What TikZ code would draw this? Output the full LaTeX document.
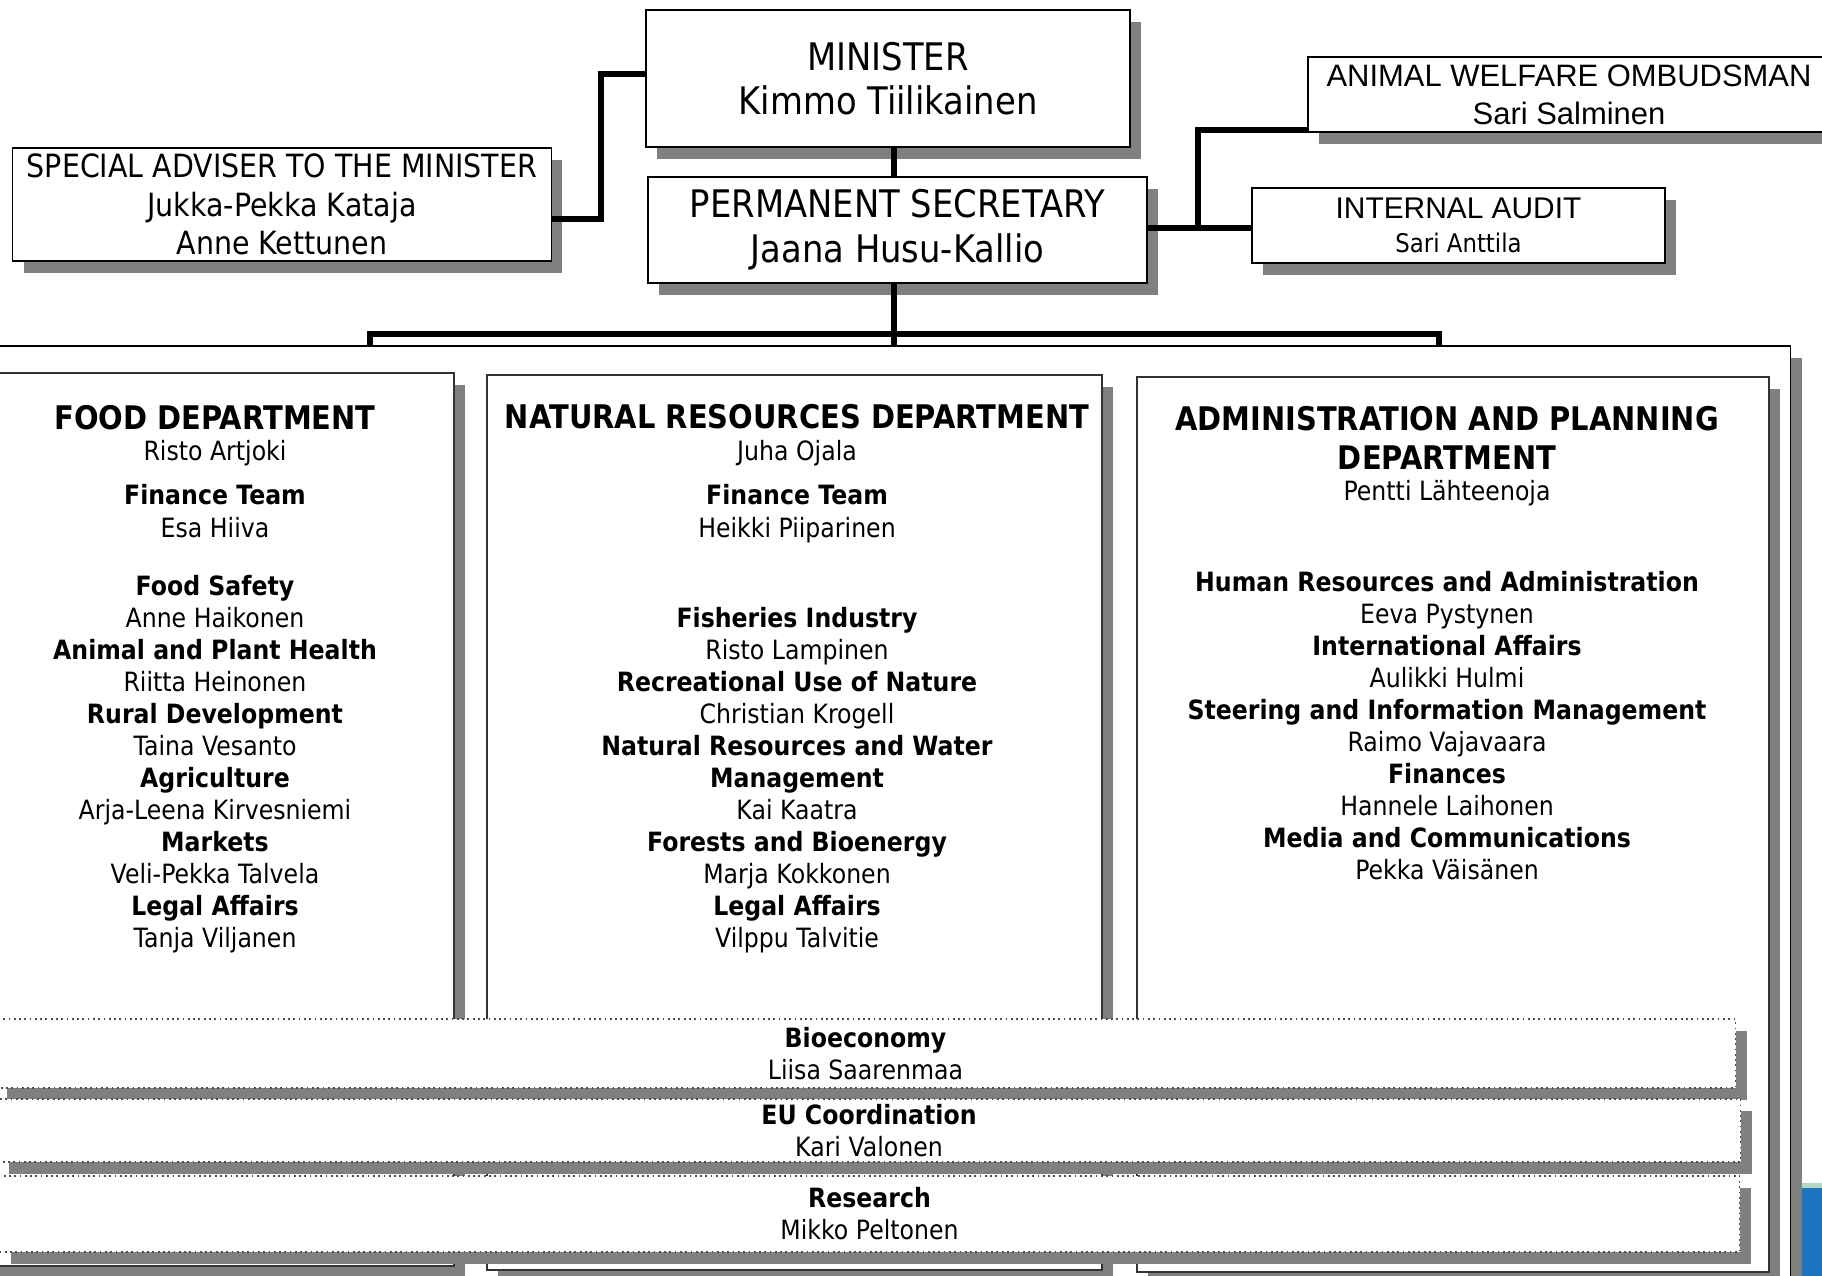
\documentclass[tikz,border=0pt]{standalone}
\usepackage{fontspec}
\setmainfont{DejaVu Sans}[FakeStretch = 0.89]
\newfontfamily\arialfont{Liberation Sans}
\usetikzlibrary{shadows}
\definecolor{logoblue}{RGB}{31,116,191}
\definecolor{logogreen}{RGB}{180,215,190}

\begin{document}
\begin{tikzpicture}[x = 0.01cm, y = -0.01cm,
    shade box/.style = {draw, fill = white, line width = 0.5pt, inner sep = 0pt, align = center,
      drop shadow = {shadow xshift = 0.11cm, shadow yshift = -0.12cm, fill = gray, opacity = 1}},
    dept box/.style = {shade box, draw = black!80},
    band/.style = {shade box, draw = black!70, densely dotted, font = \fontsize{7.55}{9.1}\selectfont},
    bigtext/.style = {font = \fontsize{10.8}{12.7}\selectfont},
    link/.style = {line width = 1.6pt},
    depttitle/.style = {anchor = base, inner sep = 0pt, font = \fontsize{9.25}{11}\selectfont\bfseries},
    unitname/.style = {anchor = base, inner sep = 0pt, font = \fontsize{7.55}{9}\selectfont\bfseries},
    who/.style = {anchor = base, inner sep = 0pt, font = \fontsize{7.55}{9}\selectfont}]
  \useasboundingbox (0, 0) rectangle (1822, 1275);
  \clip (0, 0) rectangle (1822, 1275);

  \node [shade box, minimum width = 18.1cm, minimum height = 9.74cm] (outer) at (885, 833) {};
  \node [dept box, minimum width = 4.74cm, minimum height = 8.93cm] (food) at (217, 819.5) {};
  \node [dept box, minimum width = 6.15cm, minimum height = 8.95cm] (natural) at (794.5, 822.5) {};
  \node [dept box, minimum width = 6.32cm, minimum height = 8.95cm] (admin) at (1453, 824.5) {};

  \foreach \sty/\txt/\y [count = \i] in {depttitle/FOOD DEPARTMENT/429, who/Risto Artjoki/460,
      unitname/Finance Team/504, who/Esa Hiiva/537, unitname/Food Safety/595, who/Anne Haikonen/627,
      unitname/Animal and Plant Health/659, who/Riitta Heinonen/691, unitname/Rural Development/723,
      who/Taina Vesanto/755, unitname/Agriculture/787, who/Arja-Leena Kirvesniemi/819,
      unitname/Markets/851, who/Veli-Pekka Talvela/883, unitname/Legal Affairs/915, who/Tanja Viljanen/947}
    \node [\sty] (food\i) at (215, \y) {\txt};
  \foreach \sty/\txt/\y [count = \i] in {depttitle/NATURAL RESOURCES DEPARTMENT/428, who/Juha Ojala/460,
      unitname/Finance Team/504, who/Heikki Piiparinen/537, unitname/Fisheries Industry/627,
      who/Risto Lampinen/659, unitname/Recreational Use of Nature/691, who/Christian Krogell/723,
      unitname/Natural Resources and Water/755, unitname/Management/787, who/Kai Kaatra/819,
      unitname/Forests and Bioenergy/851, who/Marja Kokkonen/883, unitname/Legal Affairs/915,
      who/Vilppu Talvitie/947}
    \node [\sty] (natural\i) at (797, \y) {\txt};
  \foreach \sty/\txt/\y [count = \i] in {depttitle/ADMINISTRATION AND PLANNING/430, depttitle/DEPARTMENT/469,
      who/Pentti Lähteenoja/500, unitname/Human Resources and Administration/591, who/Eeva Pystynen/623,
      unitname/International Affairs/655, who/Aulikki Hulmi/687,
      unitname/Steering and Information Management/719, who/Raimo Vajavaara/751,
      unitname/Finances/783, who/Hannele Laihonen/815, unitname/Media and Communications/847,
      who/Pekka Väisänen/879}
    \node [\sty] (admin\i) at (1447, \y) {\txt};

  \node [band, minimum width = 17.39cm, minimum height = 0.69cm] (bioeconomy) at (865.5, 1053.5)
    {\textbf{Bioeconomy}\\Liisa Saarenmaa};
  \node [band, minimum width = 17.42cm, minimum height = 0.63cm] (eucoord) at (869, 1130.5)
    {\textbf{EU Coordination}\\Kari Valonen};
  \node [band, minimum width = 17.39cm, minimum height = 0.76cm] (research) at (869.5, 1214)
    {\textbf{Research}\\Mikko Peltonen};

  \node [shade box, bigtext, minimum width = 4.84cm, minimum height = 1.37cm] (minister) at (888, 78.5)
    {MINISTER\\Kimmo Tiilikainen};
  \node [shade box, bigtext, minimum width = 4.99cm, minimum height = 1.06cm] (secretary) at (897.5, 230)
    {PERMANENT SECRETARY\\Jaana Husu-Kallio};
  \node [shade box, font = \fontsize{9.1}{11}\selectfont, minimum width = 5.385cm, minimum height = 1.13cm]
    (adviser) at (282, 204.5) {SPECIAL ADVISER TO THE MINISTER\\Jukka-Pekka Kataja\\Anne Kettunen};
  \node [shade box, font = \arialfont\fontsize{8.8}{10.8}\selectfont, minimum width = 5.22cm,
    minimum height = 0.75cm] (ombudsman) at (1569, 94.5) {ANIMAL WELFARE OMBUDSMAN\\Sari Salminen};
  \node [shade box, font = \arialfont\fontsize{8.5}{9.7}\selectfont, minimum width = 4.13cm,
    minimum height = 0.75cm] (audit) at (1458.5, 225.5)
    {INTERNAL AUDIT\\{\normalfont\fontsize{7.3}{9}\selectfont Sari Anttila}};

  \coordinate (spine) at (894, 0);
  \coordinate (fork) at (1198, 228);
  \coordinate (busleft) at (370, 334);
  \coordinate (busright) at (1439, 334);
  \draw [link] ([yshift = -0.145cm] adviser.east) -- ++(49, 0) |- ([yshift = 0.045cm] minister.west);
  \draw [link] (minister.south -| spine) -- (secretary.north -| spine);
  \draw [link] (secretary.south -| spine) -- (outer.north -| spine);
  \draw [link] (busleft |- outer.north) -- (busleft) -- (busright) -- (busright |- outer.north);
  \draw [link] (secretary.east |- fork) -- (audit.west |- fork);
  \draw [link] (fork) |- ([yshift = 0.03cm] ombudsman.south west);

  \fill [logoblue] (1802, 1188) rectangle (1830, 1280);
  \fill [logogreen] (1802, 1183) rectangle (1830, 1188);
\end{tikzpicture}
\end{document}
